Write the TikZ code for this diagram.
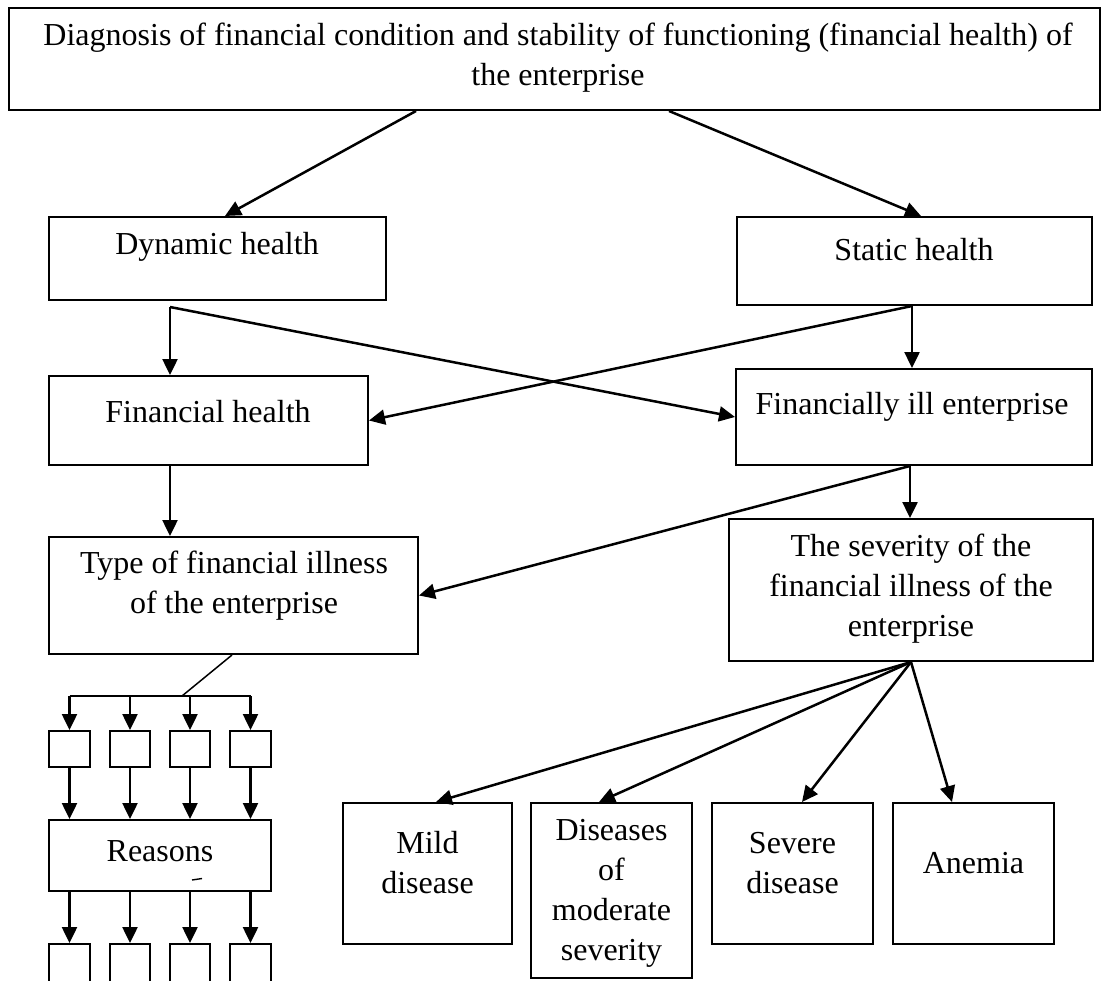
\documentclass[tikz,border=0pt]{standalone}
\usepackage{fontspec}
\setmainfont{Liberation Serif}
\usetikzlibrary{arrows.meta,calc}
\tikzset{
  box/.style={draw, line width=2pt, inner sep=0pt},
  lbl/.style={font=\fontsize{32}{40}\selectfont, align=center, inner sep=0pt},
  arr/.style={line width=2.5pt, -{Triangle[length=16pt,width=15pt]}},
  ln/.style={line width=2.5pt},
  thinln/.style={line width=1.5pt}
}
\begin{document}
\begin{tikzpicture}[x=1pt,y=-1pt]
\useasboundingbox (0,0) rectangle (1102,981);
\clip (0,0) rectangle (1102,981);
\fill[white] (0,0) rectangle (1102,981);
% boxes
\node[box, minimum width=1091pt, minimum height=102pt] (top) at (554.5,59) {};
\node[lbl] at (558,57.5) {Diagnosis of financial condition and stability of functioning (financial health) of\\the enterprise};
\node[box, minimum width=337pt, minimum height=83pt] (dyn) at (217.5,258.5) {};
\node[lbl] at (217,247) {Dynamic health};
\node[box, minimum width=355pt, minimum height=88pt] (stat) at (914.5,261) {};
\node[lbl] at (914,250) {Static health};
\node[box, minimum width=319pt, minimum height=89pt] (fh) at (208.5,420.5) {};
\node[lbl] at (208,412) {Financial health};
\node[box, minimum width=356pt, minimum height=96pt] (ill) at (914,417) {};
\node[lbl] at (912,407) {Financially ill enterprise};
\node[box, minimum width=369pt, minimum height=117pt] (type) at (233.5,595.5) {};
\node[lbl] at (234,586) {Type of financial illness\\of the enterprise};
\node[box, minimum width=364pt, minimum height=142pt] (sev) at (911,590) {};
\node[lbl] at (911,589) {The severity of the\\financial illness of the\\enterprise};
% severity categories
\node[box, minimum width=169pt, minimum height=141pt] (mild) at (427.5,873.5) {};
\node[lbl] at (427.5,863) {Mild\\disease};
\node[box, minimum width=161pt, minimum height=175pt] (mod) at (611.5,890.5) {};
\node[lbl] at (611.5,893) {Diseases\\of\\moderate\\severity};
\node[box, minimum width=161pt, minimum height=141pt] (sevd) at (792.5,873.5) {};
\node[lbl] at (792.5,863) {Severe\\disease};
\node[box, minimum width=161pt, minimum height=141pt] (anem) at (973.5,873.5) {};
\node[lbl] at (973.5,863) {Anemia};
% small boxes and reasons
\foreach \i/\x in {1/69.5,2/130,3/190,4/250.5}{
  \node[box, minimum width=40.5pt, minimum height=36pt] (b\i) at (\x,749) {};
  \node[box, minimum width=40.5pt, minimum height=46pt] (c\i) at (\x,967) {};
}
\node[box, minimum width=222pt, minimum height=71pt] (reas) at (160,855.5) {};
\node[lbl] at (160,851) {Reasons};
\draw[line width=1.4pt] (192,880) -- (202,878.5);
% connectors
\draw[arr] ([xshift=408pt]top.south west) -- ([xshift=177pt]dyn.north west);
\draw[arr] ([xshift=661pt]top.south west) -- ([xshift=185pt]stat.north west);
\coordinate (d0) at ([xshift=122pt,yshift=-6pt]dyn.south west);
\draw[arr] (d0) -- (d0 |- fh.north);
\draw[arr] (d0) -- (ill.west);
\coordinate (s0) at ([xshift=176pt]stat.south west);
\draw[arr] (s0) -- (s0 |- ill.north);
\draw[arr] (s0) -- (fh.east);
\draw[arr] ([xshift=122pt]fh.south west) -- ([xshift=122pt]type.north west);
\coordinate (i0) at ([xshift=175pt]ill.south west);
\draw[arr] (i0) -- (i0 |- sev.north);
\draw[arr] (i0) -- (type.east);
\draw[arr] (sev.south) -- ([xshift=94pt]mild.north west);
\draw[arr] (sev.south) -- ([xshift=69pt]mod.north west);
\draw[arr] (sev.south) -- ([xshift=91pt]sevd.north west);
\draw[arr] (sev.south) -- ([xshift=60pt]anem.north west);
% bus to small boxes
\coordinate (bus) at (182,696);
\draw[thinln] ([xshift=184pt]type.south west) -- (bus);
\draw[ln] (b1.north |- bus) -- (b4.north |- bus);
\foreach \i in {1,2,3,4}{
  \draw[arr] (b\i.north |- bus) -- (b\i.north);
  \draw[arr] (b\i.south) -- (b\i.south |- reas.north);
  \draw[arr] (b\i.south |- reas.south) -- (c\i.north);
}
\end{tikzpicture}
\end{document}
